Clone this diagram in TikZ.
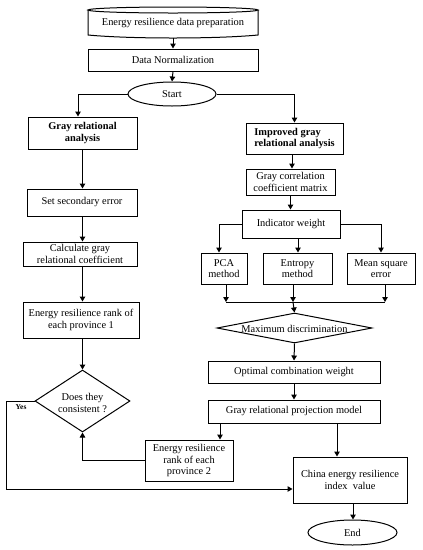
\documentclass[tikz,border=0pt]{standalone}
\usepackage{fontspec}
\setmainfont{Liberation Serif}
\usetikzlibrary{arrows.meta,shapes.geometric}
\begin{document}
\begin{tikzpicture}[x=1pt,y=-1pt,
  every node/.style={font=\fontsize{10.4}{11.5}\selectfont, align=center, inner sep=0pt},
  box/.style={draw, line width=1pt},
  arr/.style={line width=1pt, -{Triangle[length=5pt,width=5.5pt]}},
  ln/.style={line width=1pt}]
\useasboundingbox (0,0) rectangle (423,550);
% top cylinder
\draw[line width=1pt] (88,10) -- (88,35) .. controls (130,39) and (216,39) .. (258,35) -- (258,10);
\draw[line width=1pt] (173,10) ellipse [x radius=85, y radius=3];
\node (prep) at (173,23) {Energy resilience data preparation};
\coordinate (prepb) at (173,37.5);
\node[box, minimum width=170pt, minimum height=22pt] (norm) at (173,60) {Data Normalization};
\node[draw, ellipse, line width=1pt, minimum width=88pt, minimum height=24pt] (start) at (172,94) {Start};
\node[box, minimum width=109pt, minimum height=32pt, font=\fontsize{10.4}{11.5}\selectfont\bfseries] (gra) at (82.5,133) {Gray relational\\analysis};
\node[box, minimum width=97pt, minimum height=31pt, font=\fontsize{10.4}{11.5}\selectfont\bfseries, align=left] (igra) at (294.5,138.5) {Improved gray\\relational analysis};
\node[box, minimum width=110pt, minimum height=27pt] (sse) at (82,202.5) {Set secondary error};
\node[box, minimum width=114pt, minimum height=24pt] (calc) at (80,254) {Calculate gray\\relational coefficient};
\node[box, minimum width=116pt, minimum height=36pt] (er1) at (81,320) {Energy resilience rank of\\each province 1};
\node[draw, diamond, aspect=1.53, line width=1pt, minimum width=95pt, minimum height=62pt] (cons) at (82.5,401) {};
\node at (82.5,403) {Does they\\consistent ?};
\node[box, minimum width=89pt, minimum height=26pt] (gccm) at (290.5,182) {Gray correlation\\coefficient matrix};
\node[box, minimum width=98pt, minimum height=28pt] (iw) at (291,224) {Indicator weight};
\node[box, minimum width=46pt, minimum height=31pt] (pca) at (224,268.5) {PCA\\method};
\node[box, minimum width=69pt, minimum height=31pt] (ent) at (297.5,268.5) {Entropy\\method};
\node[box, minimum width=68pt, minimum height=31pt] (mse) at (381,268.5) {Mean square\\error};
\node[draw, diamond, aspect=5.2, line width=1pt, minimum width=155pt, minimum height=30pt] (md) at (294.5,328) {};
\node at (294.5,329) {Maximum discrimination};
\node[box, minimum width=172pt, minimum height=22pt] (ocw) at (294,372) {Optimal combination weight};
\node[box, minimum width=172pt, minimum height=23pt] (grp) at (294,411.5) {Gray relational projection model};
\node[box, minimum width=88pt, minimum height=41pt] (er2) at (189,460.5) {Energy resilience\\rank of each\\province 2};
\node[box, minimum width=114pt, minimum height=46pt] (china) at (350,480) {China energy resilience\\index\ \ value};
\node[draw, ellipse, line width=1pt, minimum width=89pt, minimum height=25pt] (end) at (352.5,532.5) {End};
\node[font=\fontsize{7.5}{8}\selectfont\bfseries] (yes) at (21,407) {Yes};
% connectors
\draw[arr] (prepb) -- (norm.north);
\draw[arr] (norm.south) -- (start.north);
\draw[arr] (start.west) -| (gra.north -| 78,0);
\draw[arr] (start.east) -| (igra.north);
\draw[arr] (gra.south) -- (sse.north -| gra.south);
\draw[arr] (sse.south -| gra.south) -- (calc.north -| gra.south);
\draw[arr] (calc.south -| gra.south) -- (er1.north -| gra.south);
\draw[arr] (er1.south -| gra.south) -- (cons.north);
\draw[arr] (igra.south -| 292,0) -- (gccm.north -| 292,0);
\draw[arr] (gccm.south) -- (iw.north -| gccm.south);
\draw[arr] (iw.west) -| (pca.north -| 219,0);
\draw[arr] (iw.east) -| (mse.north);
\draw[arr] (iw.south -| 298,0) -- (ent.north -| 298,0);
\coordinate (jl) at (226,302);
\coordinate (jm) at (293,302);
\coordinate (jr) at (385,302);
\draw[ln] (jl) -- (jr);
\draw[arr] (pca.south -| jl) -- (jl);
\draw[arr] (ent.south -| jm) -- (jm);
\draw[arr] (mse.south -| jr) -- (jr);
\draw[arr] (jm) -- (md.north);
\draw[arr] (md.south) -- (ocw.north);
\draw[arr] (ocw.south) -- (grp.north);
\draw[arr] (grp.south -| 220,0) -- (er2.north -| 220,0);
\draw[arr] (grp.south -| 337,0) -- (china.north -| 337,0);
\draw[arr] (er2.west) -| (cons.south);
\coordinate (yb) at (6,489);
\draw[arr] (cons.west) -| (yb) -- (china.west |- yb);
\draw[arr] (china.south -| 353,0) -- (end.north -| 353,0);
\end{tikzpicture}
\end{document}
